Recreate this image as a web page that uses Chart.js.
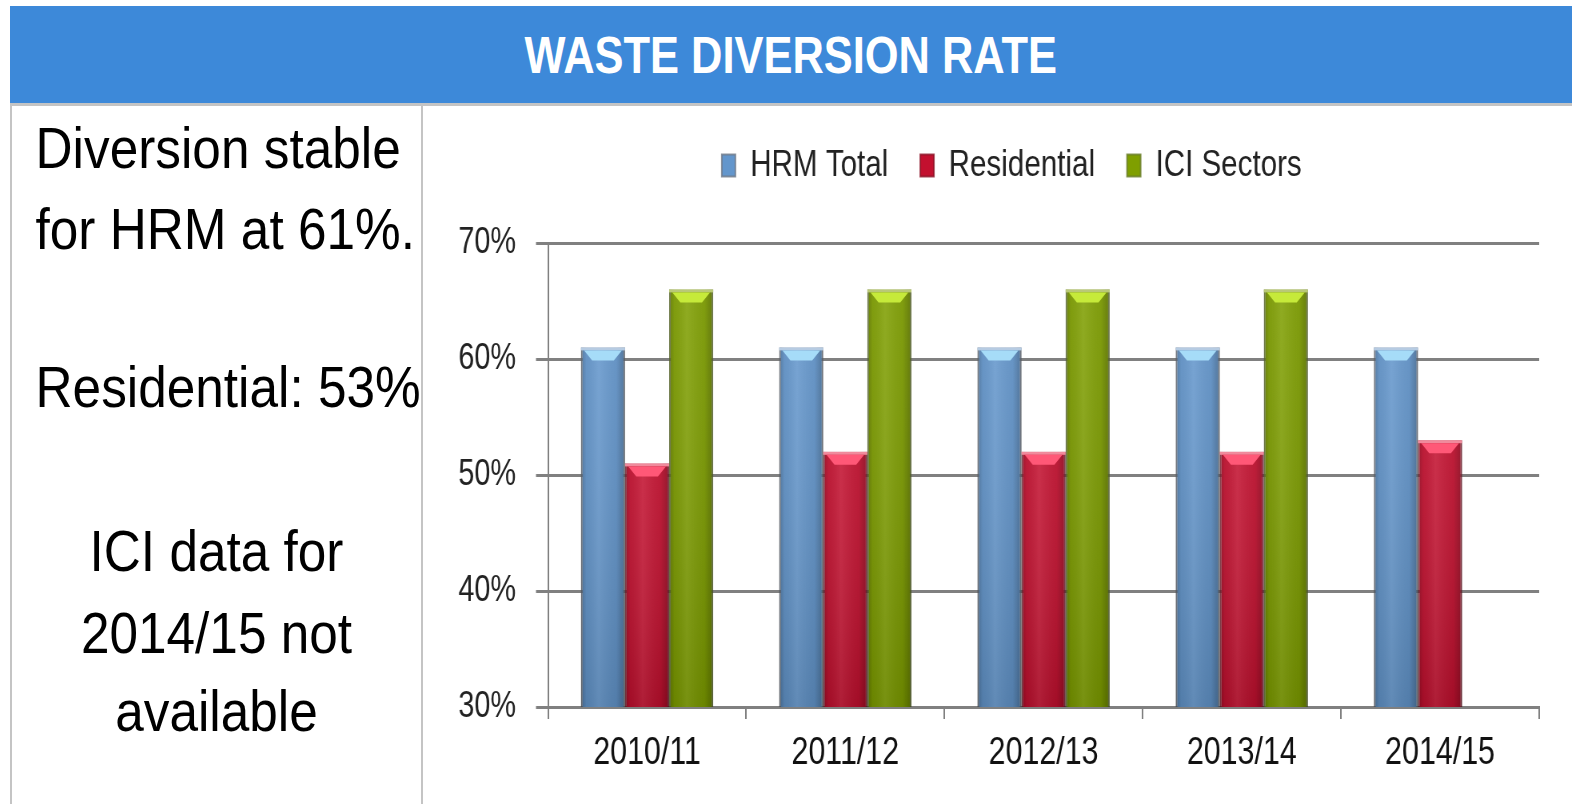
<!DOCTYPE html>
<html>
<head>
<meta charset="utf-8">
<title>Waste Diversion Rate</title>
<script src="https://cdn.jsdelivr.net/npm/chart.js@4/dist/chart.umd.min.js"></script>
<style>
  body { margin: 0; background: #fff; width: 1572px; height: 804px; overflow: hidden; position: relative; }
  #titleBar {
    position: absolute; left: 10px; top: 6px; width: 1562px; height: 97px;
    background: #3d89d9; border-bottom: 3px solid #c4c4c4;
    display: flex; align-items: center; justify-content: center;
    color: #fff; font: bold 52px 'Liberation Sans', Arial, sans-serif;
  }
  #titleBar span { display: inline-block; transform: scaleX(0.835); }
  #side {
    position: absolute; left: 10px; top: 106px; width: 409px; height: 698px;
    border-left: 2px solid #c4c4c4; border-right: 2px solid #c4c4c4;
  }
  .note {
    position: absolute; left: 0; width: 409px; text-align: center; white-space: nowrap;
    font: 58px/58px 'Liberation Sans', Arial, sans-serif; color: #000;
    transform: scaleX(0.885); transform-origin: 50% 50%;
  }
  /* the original chart is drawn with narrow, tall lettering */
  #wrap { position: absolute; left: 422px; top: 107px; width: 1438px; height: 697px;
          transform: scaleX(0.7997); transform-origin: 0 0; }
</style>
</head>
<body>
<div id="titleBar"><span>WASTE DIVERSION RATE</span></div>
<div id="side">
  <div class="note" style="top:13px">Diversion stable</div>
  <div class="note" style="top:94px">for HRM at 61%.</div>
  <div class="note" style="top:252px">Residential: 53%</div>
  <div class="note" style="top:416px">ICI data for</div>
  <div class="note" style="top:498px">2014/15 not</div>
  <div class="note" style="top:576px">available</div>
</div>
<div id="wrap"><canvas id="chart"></canvas></div>
<script>
'use strict';
let years = ['2010/11', '2011/12', '2012/13', '2013/14', '2014/15'];
let hrmTotal = [61, 61, 61, 61, 61];
let residential = [51, 52, 52, 52, 53];
let iciSectors = [66, 66, 66, 66, null];
let yTicks = [30, 40, 50, 60, 70];

Chart.defaults.font.family = "'Liberation Sans', Arial, sans-serif";

let bodyColors = ['#6396cc', '#c3102f', '#7f9f00'];
let capColors = ['#a6dcf8', '#ff5877', '#c6ea3a'];
let rimColors = ['#b6cbe2', '#f08a9c', '#b9c877'];

// extra room under the legend and a nudge to the right, like the original
let legendGap = {
    id: 'legendGap',
    beforeInit(chart) {
        let fit = chart.legend.fit;
        chart.legend.fit = function () {
            fit.bind(chart.legend)();
            this.height = 136;
        };
    },
    afterLayout(chart) {
        chart.legend.left += 39;
        chart.legend.right += 39;
    }
};

// glossy look on each bar
let shading = {
    id: 'shading',
    afterDatasetsDraw(chart) {
        let ctx = chart.ctx;
        let area = chart.chartArea;
        ctx.save();
        ctx.beginPath();
        ctx.rect(area.left, area.top, area.right - area.left, area.bottom - area.top);
        ctx.clip();
        chart.data.datasets.forEach(function (ds, i) {
            let meta = chart.getDatasetMeta(i);
            meta.data.forEach(function (bar, j) {
                if (ds.data[j] === null) return;
                let p = bar.getProps(['x', 'y', 'base', 'width'], true);
                let x0 = p.x - p.width / 2;
                let x1 = p.x + p.width / 2;
                let bottom = Math.min(p.base, area.bottom);
                let h = bottom - p.y;
                let g = ctx.createLinearGradient(x0, 0, x1, 0);
                g.addColorStop(0, 'rgba(0,0,0,0.25)');
                g.addColorStop(0.12, 'rgba(0,0,0,0.05)');
                g.addColorStop(0.4, 'rgba(255,255,255,0.08)');
                g.addColorStop(0.8, 'rgba(0,0,0,0.05)');
                g.addColorStop(1, 'rgba(0,0,0,0.28)');
                ctx.fillStyle = g;
                ctx.fillRect(x0, p.y, p.width, h);
                let v = ctx.createLinearGradient(0, p.y, 0, bottom);
                v.addColorStop(0, 'rgba(255,255,255,0.06)');
                v.addColorStop(1, 'rgba(0,0,0,0.12)');
                ctx.fillStyle = v;
                ctx.fillRect(x0, p.y, p.width, h);
                // rim and bevelled cap
                ctx.fillStyle = rimColors[i];
                ctx.fillRect(x0, p.y, p.width, 3);
                ctx.fillStyle = capColors[i];
                ctx.beginPath();
                ctx.moveTo(x0 + 4, p.y + 3);
                ctx.lineTo(x1 - 4, p.y + 3);
                ctx.lineTo(x1 - 14, p.y + 13);
                ctx.lineTo(x0 + 14, p.y + 13);
                ctx.closePath();
                ctx.fill();
            });
        });
        ctx.restore();
    }
};

let ctx = document.getElementById('chart').getContext('2d');
let myChart = new Chart(ctx, {
    type: 'bar',
    data: {
        labels: years,
        datasets: [{
            label: 'HRM Total',
            data: hrmTotal,
            backgroundColor: bodyColors[0],
            borderColor: 'rgba(110,120,135,0.8)',
            borderWidth: 2
        }, {
            label: 'Residential',
            data: residential,
            backgroundColor: bodyColors[1],
            borderColor: 'rgba(140,20,40,0.8)',
            borderWidth: 2
        }, {
            label: 'ICI Sectors',
            data: iciSectors,
            backgroundColor: bodyColors[2],
            borderColor: 'rgba(105,125,40,0.8)',
            borderWidth: 2
        }]
    },
    options: {
        responsive: true,
        maintainAspectRatio: false,
        animation: false,
        categoryPercentage: 0.667,
        barPercentage: 1,
        layout: { padding: { top: 0, right: 41, bottom: 0, left: 0 } },
        plugins: {
            legend: {
                position: 'top',
                labels: {
                    boxWidth: 17,
                    boxHeight: 22,
                    padding: 40,
                    color: '#222',
                    font: { size: 37 }
                }
            },
            tooltip: { enabled: false }
        },
        scales: {
            x: {
                grid: {
                    offset: true,
                    drawOnChartArea: false,
                    drawTicks: true,
                    tickLength: 12,
                    color: '#808080',
                    lineWidth: 2
                },
                border: { color: '#808080', width: 3 },
                ticks: { color: '#111', font: { size: 38 }, padding: 12 },
                afterFit(scale) { scale.height = 97; }
            },
            y: {
                min: yTicks[0],
                max: yTicks[yTicks.length - 1],
                afterBuildTicks(scale) { scale.ticks = yTicks.map(function (v) { return { value: v }; }); },
                grid: { color: '#808080', lineWidth: 3, tickLength: 15 },
                border: { color: '#808080', width: 2 },
                ticks: {
                    color: '#222',
                    font: { size: 36 },
                    padding: 25,
                    callback: function (v) { return v + '%'; }
                },
                afterFit(scale) { scale.width = 157.5; }
            }
        }
    },
    plugins: [legendGap, shading]
});
</script>
</body>
</html>
